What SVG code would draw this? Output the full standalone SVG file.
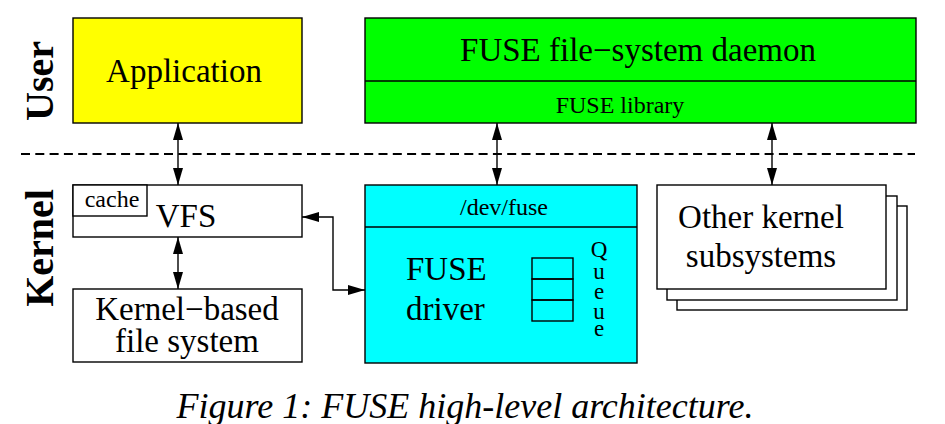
<svg xmlns="http://www.w3.org/2000/svg" width="945" height="424" viewBox="0 0 945 424">
<style>
.box{stroke:#000;stroke-width:1.4}
.big{font-family:"Liberation Serif","Times New Roman",serif;font-size:33px;fill:#000}
.small{font-family:"Liberation Serif","Times New Roman",serif;font-size:24px;fill:#000}
.side{font-family:"Liberation Serif","Times New Roman",serif;font-size:40px;font-weight:bold;fill:#000}
.conn{stroke:#000;stroke-width:1.4;fill:none;marker-start:url(#ah);marker-end:url(#ah)}
</style>
<defs>
<marker id="ah" viewBox="0 0 17 10" refX="17" refY="5" markerWidth="17" markerHeight="10" markerUnits="userSpaceOnUse" orient="auto-start-reverse">
<path d="M0,0 L17,5 L0,10 z" fill="#000"/>
</marker>
</defs>
<rect width="945" height="424" fill="#fff"/>
<g id="labels">
<text class="side" text-anchor="middle" transform="translate(53,81) rotate(-90)">User</text>
<text class="side" text-anchor="middle" transform="translate(53,248) rotate(-90)">Kernel</text>
</g>
<line x1="21" y1="154" x2="915" y2="154" stroke="#000" stroke-width="2" stroke-dasharray="9,5.3"/>
<g id="application">
<rect class="box" x="73" y="18" width="229" height="105" fill="#ffff00"/>
<text class="big" x="184" y="82" text-anchor="middle">Application</text>
</g>
<g id="daemon">
<rect class="box" x="365" y="18" width="551" height="105" fill="#00ff00"/>
<line class="box" x1="365" y1="81" x2="916" y2="81"/>
<text class="big" x="638" y="61" text-anchor="middle">FUSE file−system daemon</text>
<text class="small" x="620" y="113" text-anchor="middle">FUSE library</text>
</g>
<g id="vfs">
<rect class="box" x="73" y="185" width="229" height="52" fill="#fff"/>
<rect class="box" x="73" y="185" width="74" height="31" fill="#fff"/>
<text class="small" x="112" y="207" text-anchor="middle">cache</text>
<text class="big" x="186" y="227" text-anchor="middle">VFS</text>
</g>
<g id="kernelfs">
<rect class="box" x="73" y="289" width="229" height="73" fill="#fff"/>
<text class="big" x="187" y="320" text-anchor="middle">Kernel−based</text>
<text class="big" x="187" y="352" text-anchor="middle">file system</text>
</g>
<g id="fusedriver">
<rect class="box" x="365" y="185" width="272" height="178" fill="#00ffff"/>
<line class="box" x1="365" y1="227" x2="637" y2="227"/>
<text class="small" x="504" y="215" text-anchor="middle">/dev/fuse</text>
<text class="big" x="406" y="280">FUSE</text>
<text class="big" x="406" y="320">driver</text>
<rect class="box" x="532" y="258" width="41" height="21" fill="none"/>
<rect class="box" x="532" y="279" width="41" height="21" fill="none"/>
<rect class="box" x="532" y="300" width="41" height="21" fill="none"/>
<text font-family="Liberation Serif,'Times New Roman',serif" font-size="23" fill="#000" text-anchor="middle"><tspan x="599" y="257">Q</tspan><tspan x="599" y="279">u</tspan><tspan x="599" y="299">e</tspan><tspan x="599" y="319">u</tspan><tspan x="599" y="336">e</tspan></text>
</g>
<g id="other">
<rect class="box" x="677" y="206" width="230" height="104" fill="#fff"/>
<rect class="box" x="667" y="196" width="230" height="104" fill="#fff"/>
<rect class="box" x="657" y="185" width="229" height="104" fill="#fff"/>
<text class="big" x="761" y="228" text-anchor="middle">Other kernel</text>
<text class="big" x="761" y="267" text-anchor="middle">subsystems</text>
</g>
<g id="connectors">
<line class="conn" x1="178" y1="123" x2="178" y2="185"/>
<line class="conn" x1="178" y1="237" x2="178" y2="289"/>
<line class="conn" x1="497" y1="123" x2="497" y2="185"/>
<line class="conn" x1="772" y1="123" x2="772" y2="185"/>
<path class="conn" d="M302,217 L333,217 L333,290 L365,290"/>
</g>
<text x="465" y="418" text-anchor="middle" font-family="Liberation Serif,'Times New Roman',serif" font-size="36" font-style="italic" fill="#000">Figure 1: FUSE high-level architecture.</text>
</svg>
